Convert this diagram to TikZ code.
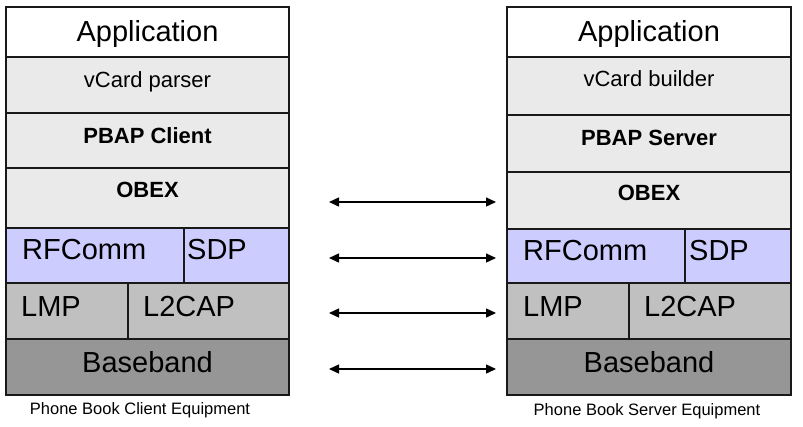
\documentclass[tikz,border=0pt]{standalone}
\usepackage{fontspec}
\setmainfont{Liberation Sans}
\usetikzlibrary{arrows.meta}
\definecolor{paleGrey}{HTML}{EAEAEA}
\definecolor{lavender}{HTML}{CCCCFF}
\definecolor{midGrey}{HTML}{C0C0C0}
\definecolor{darkGrey}{HTML}{969696}
\begin{document}
\begin{tikzpicture}[x=1pt,y=-1pt,
  layer/.style={draw=black!90,line width=1.6pt,inner sep=0pt,outer sep=0pt,anchor=north west},
  bigtxt/.style={font=\fontsize{29}{32}\selectfont,inner sep=0pt,anchor=base},
  midtxt/.style={font=\fontsize{22}{25}\selectfont,inner sep=0pt,anchor=base},
  boldtxt/.style={font=\fontsize{22}{25}\selectfont\bfseries,inner sep=0pt,anchor=base},
  captxt/.style={font=\fontsize{16.5}{18}\selectfont,inner sep=0pt,anchor=base},
  link/.style={{Triangle[length=10pt,width=9pt]}-{Triangle[length=10pt,width=9pt]},line width=1.4pt}]
\useasboundingbox (0,0) rectangle (803,426);
% client side
\node[layer,fill=white,minimum width=283pt,minimum height=50pt] (lapp) at (6,7) {};
\node[layer,fill=paleGrey,minimum width=283pt,minimum height=56pt] (lvcard) at (6,57) {};
\node[layer,fill=paleGrey,minimum width=283pt,minimum height=55pt] (lpbap) at (6,113) {};
\node[layer,fill=paleGrey,minimum width=283pt,minimum height=60pt] (lobex) at (6,168) {};
\node[layer,fill=lavender,minimum width=178pt,minimum height=55pt] (lrfc) at (6,228) {};
\node[layer,fill=lavender,minimum width=105pt,minimum height=55pt] (lsdp) at (184,228) {};
\node[layer,fill=midGrey,minimum width=122pt,minimum height=56pt] (llmp) at (6,283) {};
\node[layer,fill=midGrey,minimum width=161pt,minimum height=56pt] (ll2cap) at (128,283) {};
\node[layer,fill=darkGrey,minimum width=283pt,minimum height=56pt] (lbase) at (6,339) {};
\node[bigtxt] (lappT) at (147.5,41) {Application};
\node[midtxt] (lvcardT) at (147.5,87) {vCard parser};
\node[boldtxt] (lpbapT) at (147.5,143) {PBAP Client};
\node[boldtxt] (lobexT) at (147.5,197) {OBEX};
\node[bigtxt,anchor=base west] (lrfcT) at (22,259) {RFComm};
\node[bigtxt,anchor=base west] (lsdpT) at (187,259) {SDP};
\node[bigtxt,anchor=base west] (llmpT) at (21,316) {LMP};
\node[bigtxt,anchor=base west] (ll2capT) at (143,316) {L2CAP};
\node[bigtxt] (lbaseT) at (147.5,372) {Baseband};
\node[captxt] (lcap) at (140,414) {Phone Book Client Equipment};
% server side
\node[layer,fill=white,minimum width=284pt,minimum height=50pt] (rapp) at (507,7) {};
\node[layer,fill=paleGrey,minimum width=284pt,minimum height=58pt] (rvcard) at (507,57) {};
\node[layer,fill=paleGrey,minimum width=284pt,minimum height=57pt] (rpbap) at (507,115) {};
\node[layer,fill=paleGrey,minimum width=284pt,minimum height=57pt] (robex) at (507,172) {};
\node[layer,fill=lavender,minimum width=178pt,minimum height=54pt] (rrfc) at (507,229) {};
\node[layer,fill=lavender,minimum width=106pt,minimum height=54pt] (rsdp) at (685,229) {};
\node[layer,fill=midGrey,minimum width=122pt,minimum height=56pt] (rlmp) at (507,283) {};
\node[layer,fill=midGrey,minimum width=162pt,minimum height=56pt] (rl2cap) at (629,283) {};
\node[layer,fill=darkGrey,minimum width=284pt,minimum height=56pt] (rbase) at (507,339) {};
\node[bigtxt] (rappT) at (649,41) {Application};
\node[midtxt] (rvcardT) at (649,86) {vCard builder};
\node[boldtxt] (rpbapT) at (649,145) {PBAP Server};
\node[boldtxt] (robexT) at (649,200) {OBEX};
\node[bigtxt,anchor=base west] (rrfcT) at (523,260) {RFComm};
\node[bigtxt,anchor=base west] (rsdpT) at (689,260) {SDP};
\node[bigtxt,anchor=base west] (rlmpT) at (523,316) {LMP};
\node[bigtxt,anchor=base west] (rl2capT) at (644,316) {L2CAP};
\node[bigtxt] (rbaseT) at (649,372) {Baseband};
\node[captxt] (rcap) at (647,415) {Phone Book Server Equipment};
% peer links
\coordinate (obexL) at (329,202); \coordinate (obexR) at (496,202);
\coordinate (rfcL) at (329,258);  \coordinate (rfcR) at (496,258);
\coordinate (lmpL) at (329,313);  \coordinate (lmpR) at (496,313);
\coordinate (baseL) at (329,369); \coordinate (baseR) at (496,369);
\draw[link] (obexL) -- (obexR);
\draw[link] (rfcL) -- (rfcR);
\draw[link] (lmpL) -- (lmpR);
\draw[link] (baseL) -- (baseR);
\end{tikzpicture}
\end{document}
